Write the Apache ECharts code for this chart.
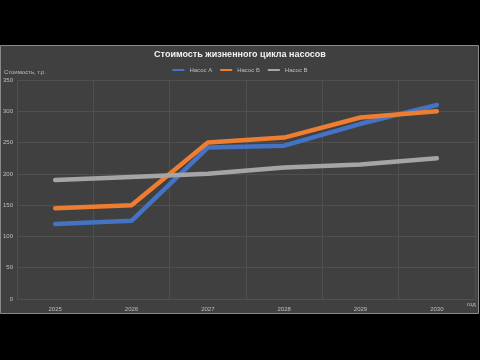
<!DOCTYPE html>
<html><head><meta charset="utf-8">
<script src="https://cdn.jsdelivr.net/npm/echarts@6/dist/echarts.min.js"></script>
<style>html,body{margin:0;padding:0;background:#000;}#c{width:480px;height:360px;}</style>
</head><body><div id="c"></div>
<script>
const years = ['2025','2026','2027','2028','2029','2030'];
const pumpA = [120, 125, 242, 245, 280, 310];
const pumpB = [145, 150, 250, 258, 290, 300];
const pumpC = [190, 195, 200, 210, 215, 225];
const seriesNames = ['Насос А','Насос Б','Насос В'];
const chart = echarts.init(document.getElementById('c'));
const font = 'Liberation Sans, Arial, sans-serif';
chart.setOption({
  backgroundColor: '#000',
  animation: false,
  graphic: [{type:'rect', shape:{x:0.5,y:45.5,width:478,height:268}, style:{fill:'#404040', stroke:'#8a8a8a', lineWidth:1}, z:-10}],
  title: {text:'Стоимость жизненного цикла насосов', left:'center', top:45,
    textStyle:{color:'#f2f2f2', fontSize:9, fontWeight:'bold', fontFamily:font}},
  legend: {top:62, left:'center', itemWidth:12, itemHeight:2, itemGap:8, icon:'rect',
    textStyle:{color:'#bfbfbf', fontSize:6, fontFamily:font}, data: seriesNames},
  grid: {left:17, right:5, top:80, bottom:61, outerBoundsMode:'none', containLabel:false},
  xAxis: {type:'category', data: years, boundaryGap:true, name:'год', nameLocation:'end',
    nameGap:-8, nameTextStyle:{color:'#bfbfbf', fontSize:6, fontFamily:font, verticalAlign:'top', padding:[2,0,0,0]},
    axisLine:{show:true, lineStyle:{color:'#505050'}}, axisTick:{show:false},
    axisLabel:{color:'#bfbfbf', fontSize:6, fontFamily:font, margin:7},
    splitLine:{show:true, lineStyle:{color:'#505050', width:1}}},
  yAxis: {type:'value', min:0, max:350, interval:50, name:'Стоимость, т.р.',
    nameLocation:'end', nameGap:5, nameTextStyle:{color:'#bfbfbf', fontSize:6, fontFamily:font, align:'left', padding:[0,0,0,-13]},
    axisLine:{show:false}, axisTick:{show:false},
    axisLabel:{color:'#bfbfbf', fontSize:6, fontFamily:font, margin:4},
    splitLine:{lineStyle:{color:'#505050', width:1}}},
  series: [
    {name:seriesNames[0], type:'line', data:pumpA, symbol:'none', lineStyle:{color:'#4472c4', width:4.5, cap:'round'}, itemStyle:{color:'#4472c4'}},
    {name:seriesNames[1], type:'line', data:pumpB, symbol:'none', lineStyle:{color:'#ed7d31', width:4.5, cap:'round'}, itemStyle:{color:'#ed7d31'}},
    {name:seriesNames[2], type:'line', data:pumpC, symbol:'none', lineStyle:{color:'#a5a5a5', width:4.5, cap:'round'}, itemStyle:{color:'#a5a5a5'}}
  ]
});
</script></body></html>
